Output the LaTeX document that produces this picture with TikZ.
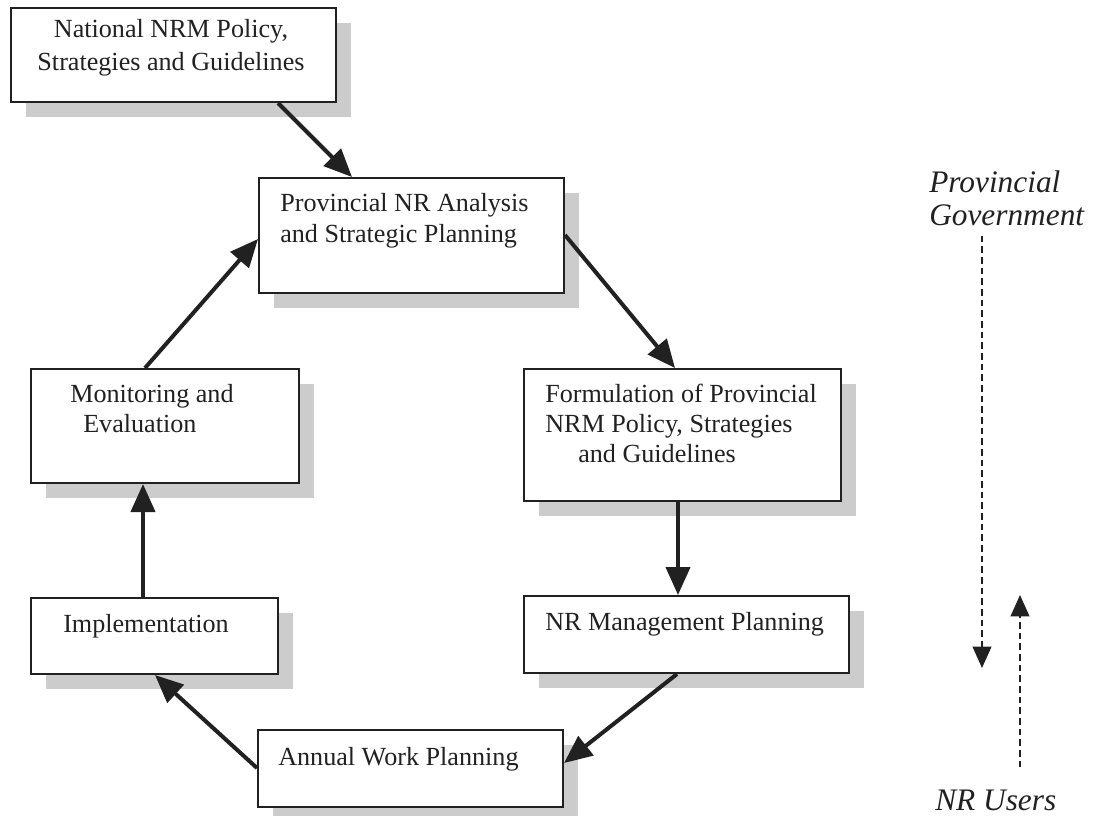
\documentclass[tikz,border=0pt]{standalone}
\usepackage{fontspec}
\setmainfont{Liberation Serif}
\usetikzlibrary{arrows.meta,calc,shadows}

\definecolor{ink}{gray}{0.13}
\definecolor{shade}{gray}{0.80}

\tikzset{
  box/.style={draw=ink, line width=1.5pt, fill=white, rectangle, inner sep=0pt,
    anchor=north west,
    drop shadow={shadow xshift=11pt, shadow yshift=-11.5pt, fill=shade, opacity=1}},
  txt/.style={inner sep=0pt, text=ink, anchor=base west,
    font=\fontsize{19.6}{24}\selectfont},
  side/.style={inner sep=0pt, text=ink, anchor=base west,
    font=\fontsize{23.5}{28}\selectfont\itshape},
  flow/.style={draw=ink, line width=3pt,
    -{Triangle[length=21pt,width=18pt]}},
  level/.style={draw=ink, line width=1.4pt, dash pattern=on 5pt off 3pt,
    -{Triangle[length=16pt,width=14pt]}}
}

\begin{document}
\begin{tikzpicture}[x=0.75pt,y=-0.75pt]
  \useasboundingbox (0,0) rectangle (1095,815);
  \fill[white] (0,0) rectangle (1095,815);

  % boxes of the planning cycle
  \node[box, minimum width=325*0.75pt, minimum height=94*0.75pt]  (nat)    at (10,7)    {};
  \node[box, minimum width=305*0.75pt, minimum height=115*0.75pt] (prov)   at (258,177) {};
  \node[box, minimum width=317*0.75pt, minimum height=132*0.75pt] (form)   at (523,368) {};
  \node[box, minimum width=325*0.75pt, minimum height=77*0.75pt]  (mgmt)   at (523,595) {};
  \node[box, minimum width=305*0.75pt, minimum height=77*0.75pt]  (annual) at (257,729) {};
  \node[box, minimum width=247*0.75pt, minimum height=76*0.75pt]  (impl)   at (30,597)  {};
  \node[box, minimum width=268*0.75pt, minimum height=114*0.75pt] (mon)    at (30,368)  {};

  % box texts
  \node[txt, anchor=base] (natA) at (171,37) {National NRM Policy,};
  \node[txt, anchor=base] (natB) at (171,70) {Strategies and Guidelines};

  \node[txt] (provA) at (280,211) {Provincial NR Analysis};
  \node[txt] (provB) at (280,242) {and Strategic Planning};

  \node[txt] (formA) at (545,402) {Formulation of Provincial};
  \node[txt] (formB) at (545,432) {NRM Policy, Strategies};
  \node[txt] (formC) at (578,462) {and Guidelines};

  \node[txt] (mgmtA) at (545,630) {NR Management Planning};
  \node[txt] (annA)  at (278,765) {Annual Work Planning};
  \node[txt] (implA) at (63,632)  {Implementation};

  \node[txt] (monA) at (70,402) {Monitoring and};
  \node[txt] (monB) at (83,432) {Evaluation};

  % cycle connectors
  \draw[flow] ($(nat.south west)+(268,0)$)  -- ($(prov.north west)+(94,0)$);
  \draw[flow] ($(prov.north east)+(0,58)$)  -- ($(form.north west)+(152,0)$);
  \draw[flow] ($(form.south west)+(155,0)$) -- ($(mgmt.north west)+(155,0)$);
  \draw[flow] ($(mgmt.south west)+(154,0)$) -- ($(annual.north east)+(0,34)$);
  \draw[flow] ($(annual.north west)+(0,39)$) -- ($(impl.south west)+(125,0)$);
  \draw[flow] ($(impl.north west)+(113,0)$) -- ($(mon.south west)+(113,0)$);
  \draw[flow] ($(mon.north west)+(115,0)$)  -- ($(prov.south west)+(0,-55)$);

  % levels on the right
  \node[side] (govA)  at (929,192) {Provincial};
  \node[side] (govB)  at (929,225) {Government};
  \node[side] (users) at (935,810) {NR Users};

  \coordinate (downend) at (982,668);
  \coordinate (upend)   at (1020,595);
  \draw[level] ($(govB.south west)+(53,10)$) -- (downend);
  \draw[level] ($(users.north west)+(85,-22)$) -- (upend);
\end{tikzpicture}
\end{document}
